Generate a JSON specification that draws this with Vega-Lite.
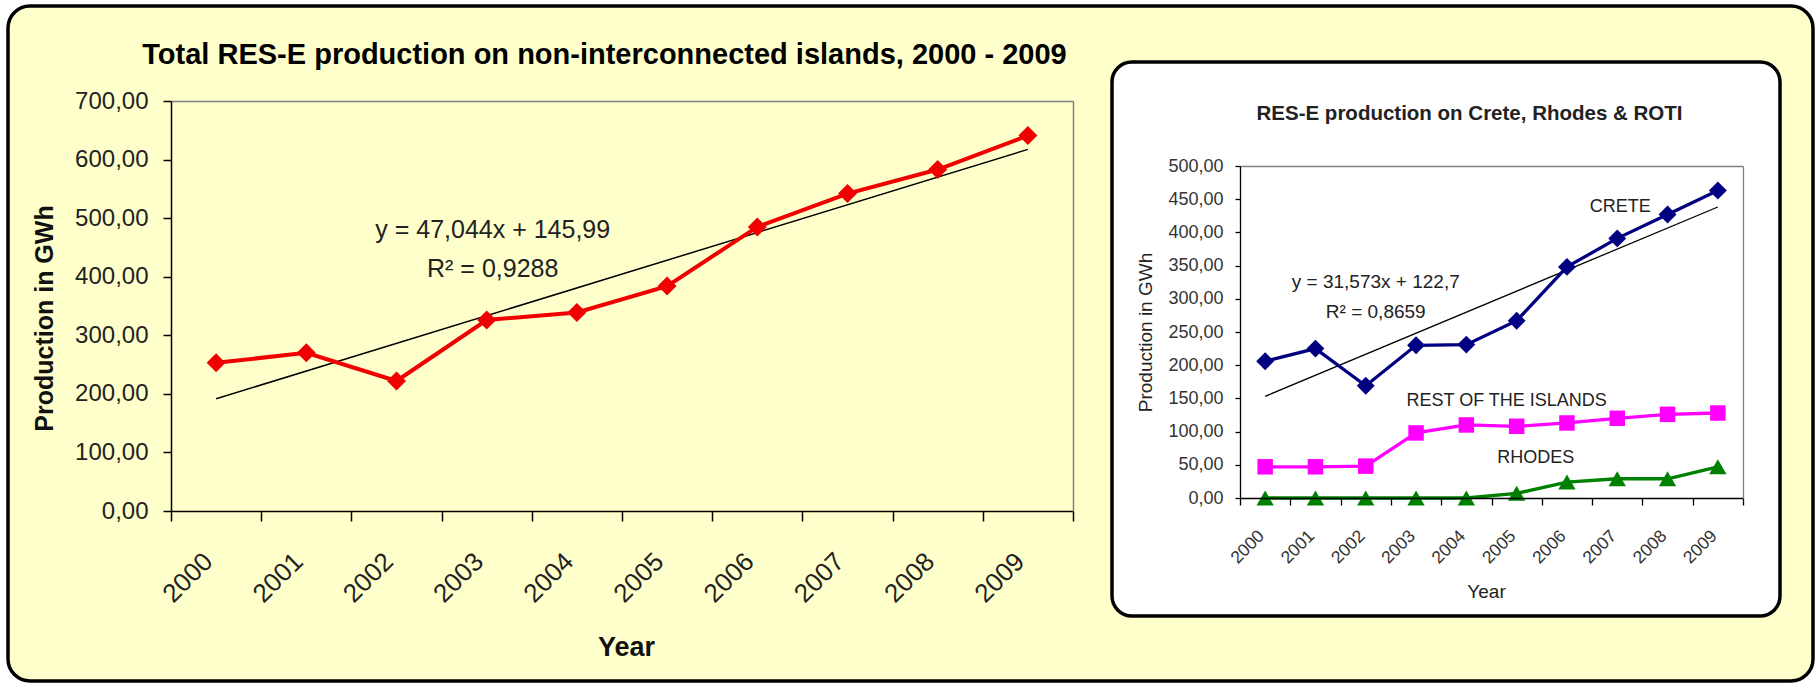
{
  "$schema": "https://vega.github.io/schema/vega-lite/v6.json",
  "width": 1805,
  "height": 675,
  "autosize": "none",
  "padding": {"left": 8, "top": 6, "right": 4, "bottom": 3},
  "background": "white",
  "view": {"fill": "#FFFFCC", "stroke": "black", "strokeWidth": 3.5, "cornerRadius": 22},
  "config": {
    "font": "Liberation Sans",
    "axis": {"grid": false, "labelFont": "Liberation Sans", "titleFont": "Liberation Sans"}
  },
  "datasets": {
    "total": [
      {"year": 2000, "value": 253}, {"year": 2001, "value": 270}, {"year": 2002, "value": 222},
      {"year": 2003, "value": 326}, {"year": 2004, "value": 339}, {"year": 2005, "value": 384},
      {"year": 2006, "value": 485}, {"year": 2007, "value": 542}, {"year": 2008, "value": 583},
      {"year": 2009, "value": 641}
    ],
    "islands": [
      {"year": 2000, "series": "CRETE", "value": 206}, {"year": 2001, "series": "CRETE", "value": 225},
      {"year": 2002, "series": "CRETE", "value": 169}, {"year": 2003, "series": "CRETE", "value": 230},
      {"year": 2004, "series": "CRETE", "value": 231}, {"year": 2005, "series": "CRETE", "value": 267},
      {"year": 2006, "series": "CRETE", "value": 348}, {"year": 2007, "series": "CRETE", "value": 391},
      {"year": 2008, "series": "CRETE", "value": 427}, {"year": 2009, "series": "CRETE", "value": 463},
      {"year": 2000, "series": "REST OF THE ISLANDS", "value": 47}, {"year": 2001, "series": "REST OF THE ISLANDS", "value": 47},
      {"year": 2002, "series": "REST OF THE ISLANDS", "value": 48}, {"year": 2003, "series": "REST OF THE ISLANDS", "value": 98},
      {"year": 2004, "series": "REST OF THE ISLANDS", "value": 110}, {"year": 2005, "series": "REST OF THE ISLANDS", "value": 108},
      {"year": 2006, "series": "REST OF THE ISLANDS", "value": 113}, {"year": 2007, "series": "REST OF THE ISLANDS", "value": 120},
      {"year": 2008, "series": "REST OF THE ISLANDS", "value": 126}, {"year": 2009, "series": "REST OF THE ISLANDS", "value": 128},
      {"year": 2000, "series": "RHODES", "value": 0}, {"year": 2001, "series": "RHODES", "value": 0},
      {"year": 2002, "series": "RHODES", "value": 0}, {"year": 2003, "series": "RHODES", "value": 0},
      {"year": 2004, "series": "RHODES", "value": 0}, {"year": 2005, "series": "RHODES", "value": 7},
      {"year": 2006, "series": "RHODES", "value": 24}, {"year": 2007, "series": "RHODES", "value": 29},
      {"year": 2008, "series": "RHODES", "value": 29}, {"year": 2009, "series": "RHODES", "value": 47}
    ]
  },
  "layer": [
    {
      "data": {"values": [{}]},
      "mark": {"type": "rect", "fill": "white", "stroke": "black", "strokeWidth": 3.5, "cornerRadius": 20},
      "encoding": {
        "x": {"datum": 0, "type": "quantitative", "scale": {"domain": [0, 1], "range": [1104, 1772], "nice": false}, "axis": null},
        "x2": {"datum": 1},
        "y": {"datum": 0, "type": "quantitative", "scale": {"domain": [0, 1], "range": [610, 56], "nice": false}, "axis": null},
        "y2": {"datum": 1}
      }
    },
    {
      "data": {"name": "total"},
      "layer": [
        {
          "transform": [{"regression": "value", "on": "year"}],
          "mark": {"type": "line", "color": "black", "strokeWidth": 1.5},
          "encoding": {
            "x": {"field": "year", "type": "ordinal", "axis": null},
            "y": {"field": "value", "type": "quantitative", "axis": null}
          }
        },
        {
          "mark": {"type": "line", "color": "#F00000", "strokeWidth": 4},
          "encoding": {
            "x": {
              "field": "year", "type": "ordinal",
              "scale": {"type": "band", "range": [163, 1065], "paddingInner": 0, "paddingOuter": 0},
              "axis": {
                "orient": "bottom", "offset": -170, "title": "Year", "titleFontSize": 27, "titleFontWeight": "bold",
                "titleX": 618, "titleY": 136, "titleAlign": "center", "titleBaseline": "middle", "titleColor": "#111",
                "labelAngle": -45, "labelAlign": "right", "labelBaseline": "middle", "labelFontSize": 26,
                "labelColor": "#222", "labelPadding": 36, "labelOffset": -8, "tickBand": "extent",
                "tickSize": 10, "tickColor": "black", "tickWidth": 1.5, "domainColor": "black", "domainWidth": 1.5
              }
            },
            "y": {
              "field": "value", "type": "quantitative",
              "scale": {"domain": [0, 700], "range": [505, 95], "nice": false},
              "axis": {
                "orient": "left", "offset": -163, "values": [0, 100, 200, 300, 400, 500, 600, 700],
                "labelExpr": "replace(format(datum.value, '.2f'), '.', ',')",
                "labelFontSize": 24, "labelColor": "#222", "labelPadding": 15,
                "tickSize": 8, "tickColor": "black", "tickWidth": 1.5, "domainColor": "black", "domainWidth": 1.5,
                "title": "Production in GWh", "titleFontSize": 25, "titleFontWeight": "bold", "titleColor": "#111",
                "titleX": -127, "titleY": 312, "titleAlign": "center", "titleBaseline": "middle", "titleAngle": -90
              }
            }
          }
        },
        {
          "mark": {"type": "point", "shape": "diamond", "size": 360, "filled": true, "color": "#F00000", "opacity": 1},
          "encoding": {
            "x": {"field": "year", "type": "ordinal", "axis": null},
            "y": {"field": "value", "type": "quantitative", "axis": null}
          }
        },
        {
          "mark": {"type": "point", "opacity": 0},
          "encoding": {
            "x": {
              "field": "year", "type": "ordinal",
              "axis": {
                "orient": "top", "offset": -95, "domainColor": "#808080", "domainWidth": 1.5, "ticks": false, "labels": false,
                "title": "Total RES-E production on non-interconnected islands, 2000 - 2009",
                "titleFontSize": 29, "titleFontWeight": "bold", "titleColor": "black",
                "titleX": 596, "titleY": -47, "titleAlign": "center", "titleBaseline": "middle"
              }
            },
            "y": {
              "field": "value", "type": "quantitative",
              "axis": {"orient": "right", "offset": -740, "domainColor": "#808080", "domainWidth": 1.5, "ticks": false, "labels": false, "title": null}
            }
          }
        },
        {
          "data": {"values": [
            {"year": 2003, "value": 479, "label": "y = 47,044x + 145,99"},
            {"year": 2003, "value": 414, "label": "R² = 0,9288"}
          ]},
          "mark": {"type": "text", "fontSize": 25, "color": "#222", "align": "center", "baseline": "middle", "dx": 6},
          "encoding": {
            "x": {"field": "year", "type": "ordinal", "axis": null},
            "y": {"field": "value", "type": "quantitative", "axis": null},
            "text": {"field": "label"}
          }
        }
      ],
      "resolve": {"axis": {"x": "independent", "y": "independent"}}
    },
    {
      "data": {"name": "islands"},
      "layer": [
        {
          "transform": [{"filter": "datum.series === 'CRETE'"}, {"regression": "value", "on": "year"}],
          "mark": {"type": "line", "color": "black", "strokeWidth": 1.3},
          "encoding": {
            "x": {"field": "year", "type": "ordinal", "axis": null},
            "y": {"field": "value", "type": "quantitative", "axis": null}
          }
        },
        {
          "mark": {"type": "line", "strokeWidth": 3.3},
          "encoding": {
            "x": {
              "field": "year", "type": "ordinal",
              "scale": {"type": "band", "range": [1232, 1735], "paddingInner": 0, "paddingOuter": 0},
              "axis": {
                "orient": "bottom", "offset": -183, "zindex": 1, "title": "Year", "titleFontSize": 19,
                "titleX": 1478, "titleY": 93, "titleAlign": "center", "titleBaseline": "middle", "titleColor": "#222", "titleFontWeight": "normal",
                "labelAngle": -45, "labelAlign": "right", "labelBaseline": "middle", "labelFontSize": 17.5,
                "labelColor": "#333", "labelPadding": 28, "labelOffset": -4, "tickBand": "extent",
                "tickSize": 7, "tickColor": "black", "tickWidth": 1.3, "domainColor": "black", "domainWidth": 1.3
              }
            },
            "y": {
              "field": "value", "type": "quantitative",
              "scale": {"domain": [0, 500], "range": [492, 160], "nice": false},
              "axis": {
                "orient": "left", "offset": -1232, "zindex": 1, "values": [0, 50, 100, 150, 200, 250, 300, 350, 400, 450, 500],
                "labelExpr": "replace(format(datum.value, '.2f'), '.', ',')",
                "labelFontSize": 18, "labelColor": "#333", "labelPadding": 12,
                "tickSize": 5, "tickColor": "black", "tickWidth": 1.3, "domainColor": "black", "domainWidth": 1.3,
                "title": "Production in GWh", "titleFontSize": 19, "titleFontWeight": "normal", "titleColor": "#222",
                "titleX": -95, "titleY": 326, "titleAlign": "center", "titleBaseline": "middle", "titleAngle": -90
              }
            },
            "color": {"field": "series", "type": "nominal", "scale": {"domain": ["CRETE", "REST OF THE ISLANDS", "RHODES"], "range": ["#000080", "#FF00FF", "#008000"]}, "legend": null}
          }
        },
        {
          "transform": [{"filter": "datum.series === 'CRETE'"}],
          "mark": {"type": "point", "shape": "diamond", "size": 320, "filled": true, "opacity": 1, "color": "#000080"},
          "encoding": {
            "x": {"field": "year", "type": "ordinal", "axis": null},
            "y": {"field": "value", "type": "quantitative", "axis": null}
          }
        },
        {
          "transform": [{"filter": "datum.series === 'REST OF THE ISLANDS'"}],
          "mark": {"type": "point", "shape": "square", "size": 240, "filled": true, "opacity": 1, "color": "#FF00FF"},
          "encoding": {
            "x": {"field": "year", "type": "ordinal", "axis": null},
            "y": {"field": "value", "type": "quantitative", "axis": null}
          }
        },
        {
          "transform": [{"filter": "datum.series === 'RHODES'"}],
          "mark": {"type": "point", "shape": "triangle-up", "size": 300, "filled": true, "opacity": 1, "color": "#008000"},
          "encoding": {
            "x": {"field": "year", "type": "ordinal", "axis": null},
            "y": {"field": "value", "type": "quantitative", "axis": null}
          }
        },
        {
          "mark": {"type": "point", "opacity": 0},
          "encoding": {
            "x": {
              "field": "year", "type": "ordinal",
              "axis": {
                "orient": "top", "offset": -160, "zindex": 1, "domainColor": "#808080", "domainWidth": 1.3, "ticks": false, "labels": false,
                "title": "RES-E production on Crete, Rhodes & ROTI",
                "titleFontSize": 20.5, "titleFontWeight": "bold", "titleColor": "#222",
                "titleX": 1461, "titleY": -53, "titleAlign": "center", "titleBaseline": "middle"
              }
            },
            "y": {
              "field": "value", "type": "quantitative",
              "axis": {"orient": "right", "offset": -70, "zindex": 1, "domainColor": "#808080", "domainWidth": 1.3, "ticks": false, "labels": false, "title": null}
            }
          }
        },
        {
          "data": {"values": [
            {"year": 2002, "value": 325, "label": "y = 31,573x + 122,7"},
            {"year": 2002, "value": 280, "label": "R² = 0,8659"}
          ]},
          "mark": {"type": "text", "fontSize": 19, "color": "#222", "align": "center", "baseline": "middle", "dx": 10},
          "encoding": {
            "x": {"field": "year", "type": "ordinal", "axis": null},
            "y": {"field": "value", "type": "quantitative", "axis": null},
            "text": {"field": "label"}
          }
        },
        {
          "data": {"values": [{"year": 2007, "value": 438, "label": "CRETE"}]},
          "mark": {"type": "text", "fontSize": 18, "color": "#222", "align": "center", "baseline": "middle", "dx": 3},
          "encoding": {
            "x": {"field": "year", "type": "ordinal", "axis": null},
            "y": {"field": "value", "type": "quantitative", "axis": null},
            "text": {"field": "label"}
          }
        },
        {
          "data": {"values": [{"year": 2005, "value": 146, "label": "REST OF THE ISLANDS"}]},
          "mark": {"type": "text", "fontSize": 18, "color": "#222", "align": "center", "baseline": "middle", "dx": -10},
          "encoding": {
            "x": {"field": "year", "type": "ordinal", "axis": null},
            "y": {"field": "value", "type": "quantitative", "axis": null},
            "text": {"field": "label"}
          }
        },
        {
          "data": {"values": [{"year": 2005, "value": 60, "label": "RHODES"}]},
          "mark": {"type": "text", "fontSize": 18, "color": "#222", "align": "center", "baseline": "middle", "dx": 19},
          "encoding": {
            "x": {"field": "year", "type": "ordinal", "axis": null},
            "y": {"field": "value", "type": "quantitative", "axis": null},
            "text": {"field": "label"}
          }
        }
      ],
      "resolve": {"axis": {"x": "independent", "y": "independent"}}
    }
  ],
  "resolve": {
    "scale": {"x": "independent", "y": "independent", "color": "independent"},
    "axis": {"x": "independent", "y": "independent"}
  }
}
